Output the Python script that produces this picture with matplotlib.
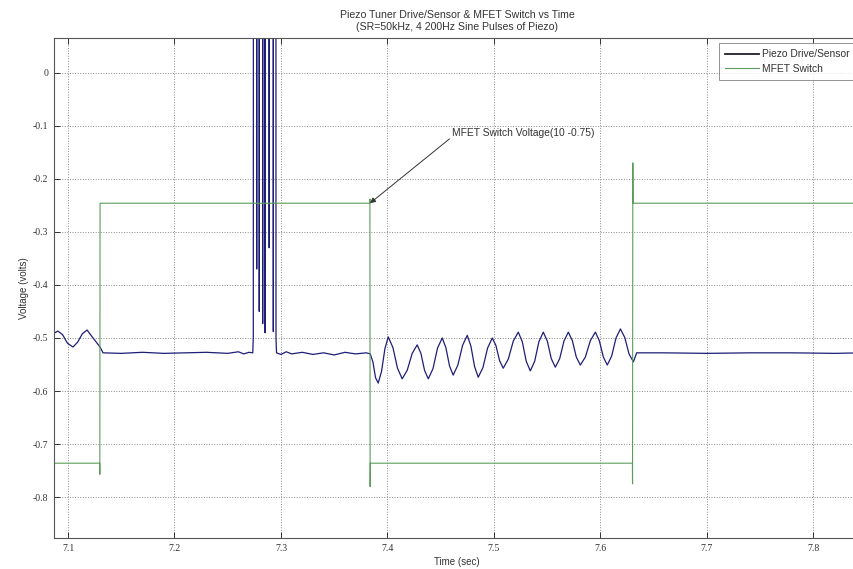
import matplotlib
matplotlib.use("Agg")
import matplotlib.pyplot as plt

# Piezo drive/sensor trace (time in s, voltage in V)
piezo_t = [
    7.0869, 7.0906, 7.0950, 7.0995, 7.1047, 7.1090, 7.1135, 7.1179, 7.1235, 7.1301, 7.1329,
    7.1500, 7.1700, 7.1900, 7.2100, 7.2300, 7.2500, 7.2600, 7.2650, 7.2700, 7.2735,
    # four 200 Hz drive pulses (off scale)
    7.2740, 7.2742, 7.2771, 7.2772, 7.2773, 7.2795, 7.2796, 7.2797,
    7.2827, 7.2828, 7.2829, 7.2849, 7.2850, 7.2851, 7.2888, 7.2889, 7.2890,
    7.2927, 7.2928, 7.2929, 7.2952, 7.2953, 7.2958,
    7.3000, 7.3050, 7.3100, 7.3200, 7.3300, 7.3400, 7.3500, 7.3600, 7.3700, 7.3800, 7.3838,
    # ring-down after the switch opens
    7.3863, 7.3888, 7.3913, 7.3944, 7.3976, 7.4007, 7.4051, 7.4094, 7.4138,
    7.4185, 7.4232, 7.4279, 7.4314, 7.4348, 7.4383, 7.4427, 7.4470, 7.4514,
    7.4548, 7.4583, 7.4617, 7.4661, 7.4705, 7.4749, 7.4783, 7.4818, 7.4852,
    7.4896, 7.4940, 7.4984, 7.5018, 7.5053, 7.5087, 7.5134, 7.5181, 7.5228,
    7.5266, 7.5303, 7.5341, 7.5382, 7.5422, 7.5463, 7.5501, 7.5538, 7.5576,
    7.5617, 7.5657, 7.5698, 7.5736, 7.5773, 7.5811, 7.5858, 7.5905, 7.5952,
    7.5989, 7.6027, 7.6064, 7.6105, 7.6146, 7.6187, 7.6228, 7.6268, 7.6309,
    7.6340,
    7.6600, 7.7000, 7.7400, 7.7800, 7.8200, 7.8450,
]
piezo_v = [
    -0.491, -0.487, -0.494, -0.510, -0.517, -0.508, -0.492, -0.485, -0.500, -0.517, -0.528,
    -0.529, -0.527, -0.529, -0.528, -0.527, -0.529, -0.526, -0.530, -0.527, -0.528,
    -0.497, 1.500, 1.500, -0.370, 1.500, 1.500, -0.450, 1.500,
    1.500, -0.473, 1.500, 1.500, -0.490, 1.500, 1.500, -0.330, 1.500,
    1.500, -0.488, 1.500, 1.500, -0.500, -0.528,
    -0.531, -0.526, -0.530, -0.527, -0.531, -0.528, -0.532, -0.527, -0.530, -0.528, -0.530,
    -0.545, -0.575, -0.585, -0.563, -0.520, -0.498, -0.518, -0.557, -0.577,
    -0.561, -0.529, -0.513, -0.529, -0.561, -0.577, -0.558, -0.519, -0.500,
    -0.518, -0.553, -0.570, -0.551, -0.514, -0.495, -0.515, -0.554, -0.574,
    -0.556, -0.519, -0.500, -0.514, -0.543, -0.557, -0.540, -0.506, -0.489,
    -0.507, -0.544, -0.562, -0.544, -0.507, -0.489, -0.506, -0.539, -0.555,
    -0.539, -0.506, -0.489, -0.505, -0.536, -0.551, -0.536, -0.505, -0.489,
    -0.505, -0.536, -0.551, -0.534, -0.500, -0.483, -0.499, -0.530, -0.545,
    -0.528,
    -0.528, -0.529, -0.528, -0.528, -0.529, -0.528,
]

# MFET switch control level
switch_t = [7.0850, 7.1298, 7.1299, 7.1301, 7.1303,
            7.3834, 7.3835, 7.3837, 7.3839,
            7.6300, 7.6301, 7.6304, 7.6306, 7.8500]
switch_v = [-0.736, -0.736, -0.757, -0.246, -0.246,
            -0.246, -0.238, -0.780, -0.736,
            -0.736, -0.775, -0.170, -0.246, -0.246]

x_ticks = [7.1, 7.2, 7.3, 7.4, 7.5, 7.6, 7.7, 7.8]
y_ticks = [0, -0.1, -0.2, -0.3, -0.4, -0.5, -0.6, -0.7, -0.8]

W, H = 854, 569
fig = plt.figure(figsize=(W / 100, H / 100), dpi=100)
ax = fig.add_axes([54 / W, 1 - 538 / H, (860 - 54) / W, (538 - 38) / H])

piezo_line, = ax.plot(piezo_t, piezo_v, color="#1e1e78", lw=0.9,
                      label="Piezo Drive/Sensor")
switch_line, = ax.plot(switch_t, switch_v, color="#5c9c5c", lw=0.8,
                       label="MFET Switch")

ax.set_xlim(7.08685, 7.8437)
ax.set_ylim(-0.877, 0.0654)
ax.set_xticks(x_ticks)
ax.set_xticklabels([f"{v:.1f}" for v in x_ticks])
ax.set_yticks(y_ticks)
ax.set_yticklabels(["0"] + [f"{v:.1f}" for v in y_ticks[1:]])

ax.grid(True, linestyle=":", color="#8a8a8a", lw=0.7)
ax.tick_params(direction="in", top=True, right=True, length=4, width=0.7,
               labelsize=7, pad=4, color="#333333")
for lab in ax.get_xticklabels() + ax.get_yticklabels():
    lab.set_family("Liberation Serif")
    lab.set_color("#333333")
for sp in ax.spines.values():
    sp.set_color("#555555")
    sp.set_linewidth(0.8)

ax.set_xlabel("Time (sec)", fontsize=7, family="Liberation Sans",
              labelpad=3, color="#333333")
ax.set_ylabel("Voltage (volts)", fontsize=7, family="Liberation Sans",
              labelpad=3, color="#333333")
ax.set_title("Piezo Tuner Drive/Sensor & MFET Switch vs Time\n"
             "(SR=50kHz, 4 200Hz Sine Pulses of Piezo)",
             fontsize=7.6, family="Liberation Sans", color="#333333",
             linespacing=1.2, pad=6)

ax.annotate("MFET Switch Voltage(10 -0.75)",
            xy=(7.3836, -0.246), xytext=(7.4608, -0.113),
            fontsize=7.4, family="Liberation Sans", color="#333333",
            va="center", ha="left",
            arrowprops=dict(arrowstyle="-|>", color="#333333", lw=0.7,
                            mutation_scale=8, shrinkA=0, shrinkB=0,
                            relpos=(0.0, 0.1)))

leg = fig.legend(handles=[piezo_line, switch_line],
                 labels=["Piezo Drive/Sensor", "MFET Switch"],
                 loc="upper left", bbox_to_anchor=(719 / W, 1 - 43 / H),
                 bbox_transform=fig.transFigure, borderaxespad=0,
                 prop={"family": "Liberation Sans", "size": 7.4},
                 frameon=True, fancybox=False, edgecolor="#777777",
                 handlelength=3.3, handletextpad=0.3, borderpad=0.6,
                 labelspacing=0.45)
leg.get_frame().set_linewidth(0.7)
leg.get_lines()[0].set_color("#202030")
leg.get_lines()[0].set_linewidth(1.3)
for t in leg.get_texts():
    t.set_color("#333333")

fig.savefig("out.png", dpi=100)
